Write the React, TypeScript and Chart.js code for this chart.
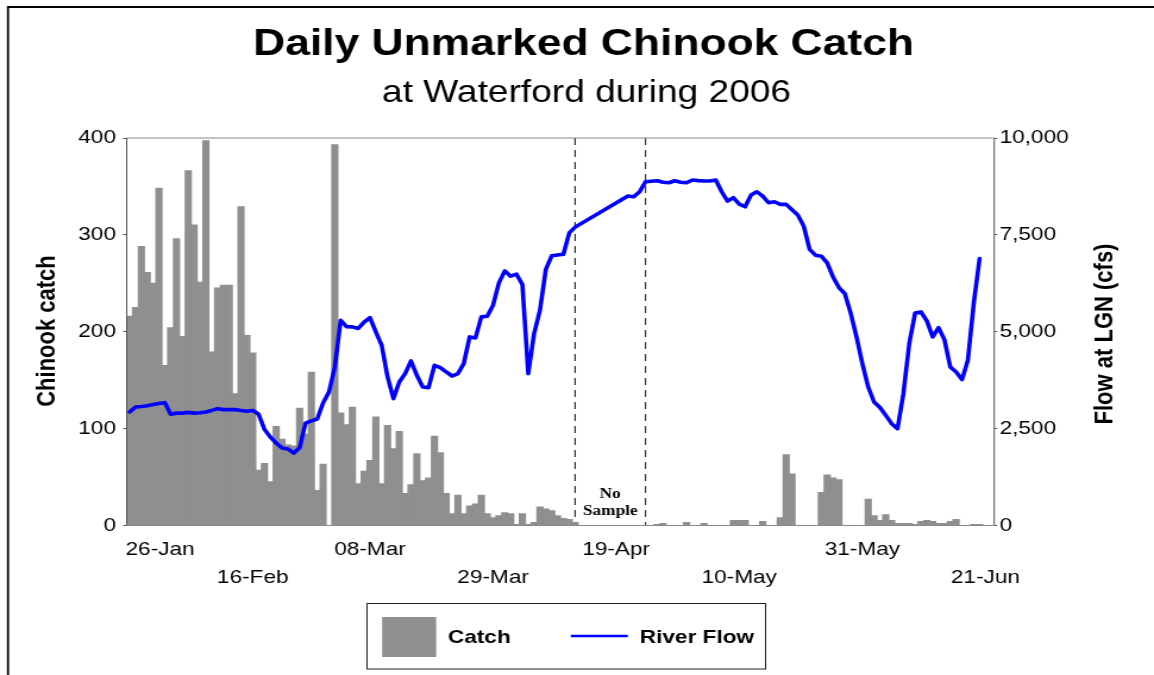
import React, { useEffect, useRef } from 'react';
import { Chart, registerables } from 'chart.js';

Chart.register(...registerables);

// ---------- data ----------
const START_YEAR = 2006;
const START_MONTH = 0; // January
const START_DAY = 26;
const DAY_COUNT = 148;
const MONTHS = ['Jan', 'Feb', 'Mar', 'Apr', 'May', 'Jun', 'Jul', 'Aug', 'Sep', 'Oct', 'Nov', 'Dec'];

const TITLE = 'Daily Unmarked Chinook Catch';
const SUBTITLE = 'at Waterford during 2006';
const Y_TITLE = 'Chinook catch';
const Y1_TITLE = 'Flow at LGN (cfs)';
const NO_SAMPLE_TEXT = ['No', 'Sample'];

const TICK_LABELS = ['26-Jan', '16-Feb', '08-Mar', '29-Mar', '19-Apr', '10-May', '31-May', '21-Jun'];
const NO_SAMPLE_BOUNDS = ['12-Apr', '24-Apr'];
const Y_TICKS = [0, 100, 200, 300, 400];
const Y1_TICKS = [0, 2500, 5000, 7500, 10000];

// daily unmarked chinook catch, 26-Jan onwards (null = not sampled / no data)
const CATCH: (number | null)[] = [
  216, 225, 288, 261, 250, 348, 165, 204, 296, 195,
  366, 310, 251, 397, 179, 245, 248, 248, 136, 329,
  196, 178, 57, 64, 45, 102, 89, 83, 82, 121,
  94, 158, 36, 63, 0, 393, 116, 104, 122, 43,
  56, 67, 112, 43, 103, 79, 97, 33, 42, 74,
  46, 49, 92, 75, 33, 12, 31, 12, 20, 22,
  31, 12, 8, 10, 13, 12, 1, 12, 1, 3,
  19, 17, 15, 10, 7, 6, 3, null, null, null,
  null, null, null, null, null, null, null, null, null, 0,
  1, 2, 0, 0, 0, 3, 0, 0, 2, 0,
  0, 0, 0, 5, 5, 5, 0, 0, 4, 0,
  0, 8, 73, 53, 0, 0, 0, 0, 34, 52,
  49, 47, 0, 0, 0, 0, 27, 10, 5, 11,
  5, 2, 2, 2, 1, 4, 5, 4, 2, 2,
  4, 6, 0, 0, 1, 1, null, null,
];

// daily river flow at LGN (cfs), same days (null = no reading)
const FLOW: (number | null)[] = [
  2930, 3060, 3070, 3090, 3120, 3150, 3170, 2870, 2900, 2900,
  2920, 2900, 2910, 2930, 2970, 3015, 2990, 2990, 2990, 2970,
  2950, 2970, 2870, 2480, 2280, 2130, 2000, 1975, 1870, 2007,
  2644, 2700, 2747, 3161, 3445, 4091, 5297, 5130, 5125, 5085,
  5250, 5366, 4995, 4651, 3833, 3273, 3703, 3919, 4246, 3876,
  3574, 3558, 4134, 4075, 3962, 3858, 3919, 4177, 4866, 4840,
  5383, 5400, 5685, 6261, 6571, 6434, 6486, 6219, 3919, 4953,
  5556, 6607, 6960, 6980, 7000, 7553, 7700, null, null, null,
  null, null, null, null, null, 8501, 8484, 8613, 8871, 8885,
  8897, 8860, 8845, 8897, 8860, 8845, 8915, 8900, 8889, 8889,
  8915, 8613, 8372, 8458, 8295, 8225, 8527, 8613, 8501, 8329,
  8355, 8287, 8287, 8150, 8010, 7726, 7124, 6977, 6951, 6778,
  6416, 6140, 5987, 5486, 4866, 4177, 3574, 3187, 3047, 2842,
  2627, 2498, 3402, 4694, 5486, 5512, 5280, 4866, 5108, 4798,
  4091, 3962, 3765, 4264, 5728, 6891, null, null,
];

function buildLabels(): string[] {
  const out: string[] = [];
  for (let i = 0; i < DAY_COUNT; i++) {
    const d = new Date(Date.UTC(START_YEAR, START_MONTH, START_DAY + i));
    out.push(String(d.getUTCDate()).padStart(2, '0') + '-' + MONTHS[d.getUTCMonth()]);
  }
  return out;
}
const LABELS = buildLabels();

// ---------- style ----------
const FONT = "'Liberation Sans', Arial, Helvetica, sans-serif";
const SERIF = "'Liberation Serif', 'Times New Roman', serif";
const BAR_COLOR = '#8f8f8f';
const LINE_COLOR = '#0000ff';
const CANVAS_W = 970;
const CANVAS_H = 675;
const TICK_FONT = 19;

const decorPlugin = {
  id: 'decor',
  beforeDatasetsDraw(chart: any) {
    const { ctx, chartArea: ca, scales } = chart;
    const x = scales.x;
    ctx.save();
    ctx.strokeStyle = '#333333';
    ctx.lineWidth = 1.2;
    ctx.setLineDash([7, 5]);
    const pxs: number[] = [];
    for (const lab of NO_SAMPLE_BOUNDS) {
      const i = LABELS.indexOf(lab);
      const px = x.getPixelForValue(i);
      pxs.push(px);
      ctx.beginPath();
      ctx.moveTo(px, ca.top);
      ctx.lineTo(px, ca.bottom);
      ctx.stroke();
    }
    ctx.setLineDash([]);
    ctx.fillStyle = '#000';
    ctx.font = `bold 14.5px ${SERIF}`;
    ctx.textAlign = 'center';
    ctx.textBaseline = 'alphabetic';
    const mid = (pxs[0] + pxs[1]) / 2;
    ctx.fillText(NO_SAMPLE_TEXT[0], mid, 498);
    ctx.fillText(NO_SAMPLE_TEXT[1], mid, 515);
    ctx.restore();
  },
  afterDraw(chart: any) {
    const { ctx, chartArea: ca, scales } = chart;
    const x = scales.x;
    ctx.save();

    // outer frame (left + top)
    ctx.strokeStyle = '#000';
    ctx.lineWidth = 1.8;
    ctx.beginPath();
    ctx.moveTo(6.7, CANVAS_H + 5);
    ctx.lineTo(6.7, 7);
    ctx.lineTo(CANVAS_W + 5, 7);
    ctx.stroke();

    // plot frame
    ctx.lineWidth = 1;
    ctx.strokeStyle = '#8a8a8a';
    ctx.beginPath();
    ctx.moveTo(ca.left, ca.top);
    ctx.lineTo(ca.right, ca.top);
    ctx.moveTo(ca.left, ca.bottom);
    ctx.lineTo(ca.right, ca.bottom);
    ctx.stroke();
    ctx.strokeStyle = '#555555';
    ctx.beginPath();
    ctx.moveTo(ca.left, ca.top);
    ctx.lineTo(ca.left, ca.bottom);
    ctx.moveTo(ca.right, ca.top);
    ctx.lineTo(ca.right, ca.bottom);
    ctx.stroke();

    // titles
    ctx.fillStyle = '#000';
    ctx.textAlign = 'center';
    ctx.textBaseline = 'alphabetic';
    ctx.font = `bold 37.3px ${FONT}`;
    ctx.fillText(TITLE, 490.5, 55);
    ctx.font = `31.2px ${FONT}`;
    ctx.fillText(SUBTITLE, 493, 102);

    // axis titles
    ctx.font = `bold 22px ${FONT}`;
    ctx.textBaseline = 'middle';
    ctx.save();
    ctx.translate(39.5, 331);
    ctx.rotate(-Math.PI / 2);
    ctx.fillText(Y_TITLE, 0, 0);
    ctx.restore();
    ctx.save();
    ctx.translate(928.6, 334);
    ctx.rotate(-Math.PI / 2);
    ctx.fillText(Y1_TITLE, 0, 0);
    ctx.restore();

    // x tick labels (two staggered rows)
    ctx.textBaseline = 'alphabetic';
    ctx.font = `${TICK_FONT}px ${FONT}`;
    TICK_LABELS.forEach((lab, j) => {
      const i = LABELS.indexOf(lab);
      let px = x.getPixelForValue(i);
      const w = ctx.measureText(lab).width;
      px = Math.max(px, ca.left + w / 2 - 1);
      ctx.fillText(lab, px, j % 2 === 0 ? 555 : 583);
    });

    // legend
    const ds = chart.data.datasets;
    ctx.strokeStyle = '#222';
    ctx.lineWidth = 1;
    ctx.strokeRect(308.5, 603.5, 335, 65.5);
    ctx.fillStyle = BAR_COLOR;
    ctx.fillRect(321.2, 617, 45.4, 40);
    ctx.fillStyle = '#000';
    ctx.font = `bold ${TICK_FONT}px ${FONT}`;
    ctx.textAlign = 'left';
    ctx.fillText(ds[1].label, 376.5, 643);
    ctx.strokeStyle = LINE_COLOR;
    ctx.lineWidth = 2.4;
    ctx.beginPath();
    ctx.moveTo(479.8, 636);
    ctx.lineTo(527.7, 636);
    ctx.stroke();
    ctx.fillText(ds[0].label, 537.8, 643);

    ctx.restore();
  },
};

export default function App() {
  const ref = useRef<HTMLCanvasElement | null>(null);

  useEffect(() => {
    if (!ref.current) return;
    const chart = new Chart(ref.current, {
      data: {
        labels: LABELS,
        datasets: [
          {
            type: 'line',
            label: 'River Flow',
            data: FLOW,
            yAxisID: 'y1',
            xAxisID: 'x',
            borderColor: LINE_COLOR,
            borderWidth: 3.6,
            pointRadius: 0,
            tension: 0,
            spanGaps: true,
            borderJoinStyle: 'round',
            borderCapStyle: 'round',
            order: 0,
          },
          {
            type: 'bar',
            label: 'Catch',
            data: CATCH,
            yAxisID: 'y',
            xAxisID: 'x',
            backgroundColor: BAR_COLOR,
            borderWidth: 0,
            barPercentage: 1,
            categoryPercentage: 1,
            inflateAmount: 0.6,
            order: 1,
          },
        ],
      } as any,
      options: {
        responsive: false,
        devicePixelRatio: 1,
        animation: false,
        events: [],
        layout: { padding: { top: 138, bottom: 89.5, left: 0, right: 0 } },
        plugins: {
          legend: { display: false },
          title: { display: false },
          tooltip: { enabled: false },
        },
        scales: {
          x: {
            type: 'category',
            offset: true,
            grid: { display: false },
            border: { display: false },
            ticks: { display: false },
            afterFit: (s: any) => {
              s.height = 60;
            },
          },
          y: {
            position: 'left',
            min: 0,
            max: 400,
            afterBuildTicks: (s: any) => {
              s.ticks = Y_TICKS.map((v) => ({ value: v }));
            },
            ticks: {
              color: '#000',
              font: { family: FONT, size: TICK_FONT },
              padding: 6,
            },
            grid: { drawOnChartArea: false, drawTicks: true, tickLength: 3, color: '#555555' },
            border: { display: false },
            afterFit: (s: any) => {
              s.width = 106.5;
            },
          },
          y1: {
            position: 'right',
            min: 0,
            max: 10000,
            afterBuildTicks: (s: any) => {
              s.ticks = Y1_TICKS.map((v) => ({ value: v }));
            },
            ticks: {
              color: '#000',
              font: { family: FONT, size: TICK_FONT },
              padding: 2,
              callback: (v: any) => Number(v).toLocaleString('en-US'),
            },
            grid: { drawOnChartArea: false, drawTicks: true, tickLength: 2.5, color: '#555555' },
            border: { display: false },
            afterFit: (s: any) => {
              s.width = CANVAS_W - 835.7;
            },
          },
        },
      } as any,
      plugins: [decorPlugin],
    });
    return () => chart.destroy();
  }, []);

  return (
    <div style={{ position: 'fixed', left: 0, top: 0, width: 1154, height: 675, background: '#fff' }}>
      <canvas
        ref={ref}
        width={CANVAS_W}
        height={CANVAS_H}
        style={{ width: '1154px', height: '675px', display: 'block' }}
      />
    </div>
  );
}
